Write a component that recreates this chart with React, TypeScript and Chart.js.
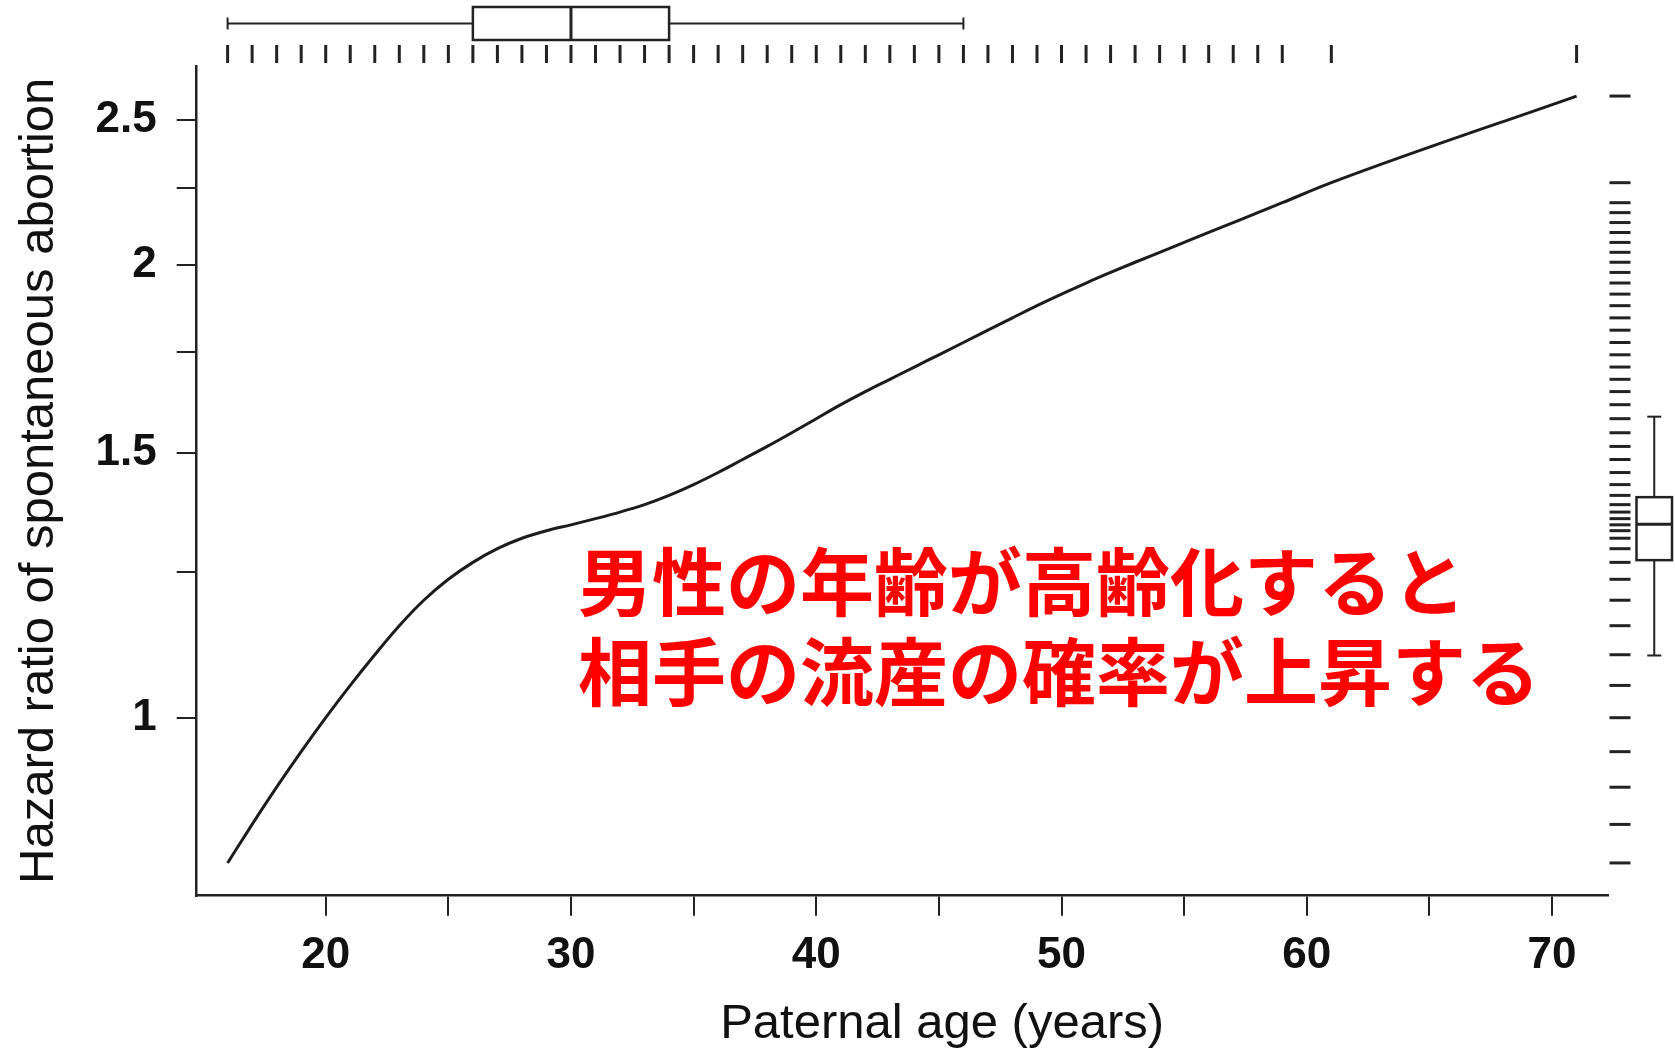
import React, { useEffect, useRef } from "react";
import { Chart, registerables } from "chart.js";

Chart.register(...registerables);

// ---- data ----
const paternalAges: number[] = [
  16, 17, 18, 19, 20, 21, 22, 23, 24, 25, 26, 27, 28, 29, 30, 31, 32, 33, 34, 35,
  36, 37, 38, 39, 40, 41, 42, 43, 44, 45, 46, 47, 48, 49, 50, 51, 52, 53, 54, 55,
  56, 57, 58, 59, 61, 71,
];
const hazardRatios: number[] = [
  0.8005, 0.8492, 0.899, 0.9493, 1.0, 1.0507, 1.1013, 1.1514, 1.1972, 1.2362,
  1.2687, 1.2956, 1.3165, 1.3318, 1.3438, 1.3566, 1.3703, 1.386, 1.4058, 1.4292,
  1.4559, 1.4853, 1.5153, 1.5474, 1.5811, 1.6154, 1.6481, 1.6794, 1.7113, 1.7437,
  1.7768, 1.8107, 1.8452, 1.88, 1.9136, 1.9464, 1.9782, 2.0093, 2.0401, 2.0713,
  2.1031, 2.1353, 2.168, 2.2012, 2.2698, 2.592,
];
const xTickValues: number[] = [20, 25, 30, 35, 40, 45, 50, 55, 60, 65, 70];
const xTickLabelValues: number[] = [20, 30, 40, 50, 60, 70];
const yTickValues: number[] = [1, 1.25, 1.5, 1.75, 2, 2.25, 2.5];
const yTickLabels: string[] = ["1", "", "1.5", "", "2", "", "2.5"];
// box plot five-number summaries: [lower whisker, Q1, median, Q3, upper whisker]
const ageBoxStats: number[] = [16, 26, 30, 34, 46];
const hazardBoxStats: number[] = [1.1, 1.273, 1.345, 1.402, 1.586];
const xAxisTitle = "Paternal age (years)";
const yAxisTitle = "Hazard ratio of spontaneous abortion";
const noteLines: string[] = ["男性の年齢が高齢化すると", "相手の流産の確率が上昇する"];

const SANS = '"Liberation Sans", Arial, Helvetica, sans-serif';
const INK = "#222";

const marginPlugin = {
  id: "marginPlots",
  afterDraw(chart: any) {
    const { ctx, chartArea, scales } = chart;
    const xs = scales.x;
    const ys = scales.y;
    const seg = (x1: number, y1: number, x2: number, y2: number) => {
      ctx.beginPath();
      ctx.moveTo(x1, y1);
      ctx.lineTo(x2, y2);
      ctx.stroke();
    };
    ctx.save();
    ctx.strokeStyle = INK;
    ctx.lineCap = "butt";

    // top rug of observed ages
    ctx.lineWidth = 3;
    paternalAges.forEach((a) => {
      const px = xs.getPixelForValue(a);
      seg(px, chartArea.top - 21, px, chartArea.top - 3);
    });

    // top box plot of ages
    {
      const [lo, q1, med, q3, hi] = ageBoxStats.map((v) => xs.getPixelForValue(v));
      const bt = chartArea.top - 59;
      const bb = chartArea.top - 26;
      const bm = (bt + bb) / 2;
      ctx.lineWidth = 2;
      seg(lo, bm, q1, bm);
      seg(q3, bm, hi, bm);
      seg(lo, bm - 6, lo, bm + 6);
      seg(hi, bm - 6, hi, bm + 6);
      ctx.lineWidth = 2.5;
      ctx.strokeRect(q1, bt, q3 - q1, bb - bt);
      ctx.lineWidth = 3;
      seg(med, bt, med, bb);
    }

    // right rug of fitted hazard ratios
    ctx.lineWidth = 3;
    hazardRatios.forEach((h) => {
      const py = ys.getPixelForValue(h);
      seg(chartArea.right + 2, py, chartArea.right + 23, py);
    });

    // right box plot of hazard ratios
    {
      const [lo, q1, med, q3, hi] = hazardBoxStats.map((v) => ys.getPixelForValue(v));
      const bl = chartArea.right + 29;
      const br = chartArea.right + 64.5;
      const bc = (bl + br) / 2;
      ctx.lineWidth = 2;
      seg(bc, lo, bc, q1);
      seg(bc, q3, bc, hi);
      seg(bc - 7, lo, bc + 7, lo);
      seg(bc - 7, hi, bc + 7, hi);
      ctx.lineWidth = 2.5;
      ctx.strokeRect(bl, q3, br - bl, q1 - q3);
      ctx.lineWidth = 3;
      seg(bl, med, br, med);
    }

    // x axis title
    ctx.fillStyle = "#111";
    ctx.font = `49px ${SANS}`;
    ctx.textAlign = "center";
    ctx.textBaseline = "alphabetic";
    ctx.fillText(xAxisTitle, (chartArea.left + chartArea.right) / 2 + 40, chartArea.bottom + 142);
    ctx.restore();
  },
};

export default function App() {
  const canvasRef = useRef<HTMLCanvasElement | null>(null);

  useEffect(() => {
    const canvas = canvasRef.current;
    if (!canvas) return;
    const chart = new Chart(canvas, {
      type: "line",
      data: {
        datasets: [
          {
            data: paternalAges.map((a, i) => ({ x: a, y: hazardRatios[i] })),
            borderColor: "#1c1c1c",
            borderWidth: 3,
            pointRadius: 0,
            pointHoverRadius: 0,
            cubicInterpolationMode: "monotone",
            fill: false,
          },
        ],
      },
      options: {
        animation: false,
        responsive: false,
        devicePixelRatio: 1,
        events: [],
        layout: { padding: { top: 66, right: 67.5, bottom: 0, left: 0 } },
        plugins: { legend: { display: false }, tooltip: { enabled: false } },
        scales: {
          x: {
            type: "linear",
            min: 14.74,
            max: 72.26,
            afterFit: (s: any) => {
              s.height = 155.3;
            },
            afterBuildTicks: (s: any) => {
              s.ticks = xTickValues.map((v) => ({ value: v }));
            },
            ticks: {
              autoSkip: false,
              maxRotation: 0,
              minRotation: 0,
              padding: 14,
              color: "#111",
              font: { family: SANS, size: 44, weight: "bold" },
              callback: (v: any) => (xTickLabelValues.includes(Number(v)) ? String(v) : ""),
            },
            grid: {
              drawOnChartArea: false,
              drawTicks: true,
              tickLength: 20,
              tickWidth: 2,
              tickColor: INK,
              lineWidth: 2,
            },
            border: { display: true, width: 2.5, color: INK },
          },
          y: {
            type: "logarithmic",
            min: 0.76133,
            max: 2.7141,
            afterFit: (s: any) => {
              s.width = 196.7;
            },
            afterBuildTicks: (s: any) => {
              s.ticks = yTickValues.map((v) => ({ value: v }));
            },
            ticks: {
              autoSkip: false,
              padding: 20,
              color: "#111",
              font: { family: SANS, size: 44, weight: "bold" },
              callback: (v: any) => {
                const i = yTickValues.indexOf(Number(v));
                return i >= 0 ? yTickLabels[i] : "";
              },
            },
            title: {
              display: true,
              text: yAxisTitle,
              color: "#111",
              font: { family: SANS, size: 49 },
              padding: { top: 10, bottom: 0 },
            },
            grid: {
              drawOnChartArea: false,
              drawTicks: true,
              tickLength: 20,
              tickWidth: 2,
              tickColor: INK,
              lineWidth: 2,
            },
            border: { display: true, width: 2.5, color: INK },
          },
        },
      } as any,
      plugins: [marginPlugin],
    });
    return () => chart.destroy();
  }, []);

  return (
    <div
      style={{
        position: "fixed",
        left: 0,
        top: 0,
        width: 1675,
        height: 1051,
        background: "#fff",
        overflow: "hidden",
      }}
    >
      <canvas ref={canvasRef} width={1675} height={1051} style={{ width: 1675, height: 1051, display: "block" }} />
      <div
        style={{
          position: "absolute",
          left: 578,
          top: 533,
          color: "#ff0000",
          fontFamily: '"Noto Sans CJK JP", "Noto Sans CJK SC", sans-serif',
          fontWeight: 700,
          fontSize: 74,
          lineHeight: "90px",
          whiteSpace: "pre",
        }}
      >
        {noteLines.map((t, i) => (
          <div key={i}>{t}</div>
        ))}
      </div>
    </div>
  );
}
